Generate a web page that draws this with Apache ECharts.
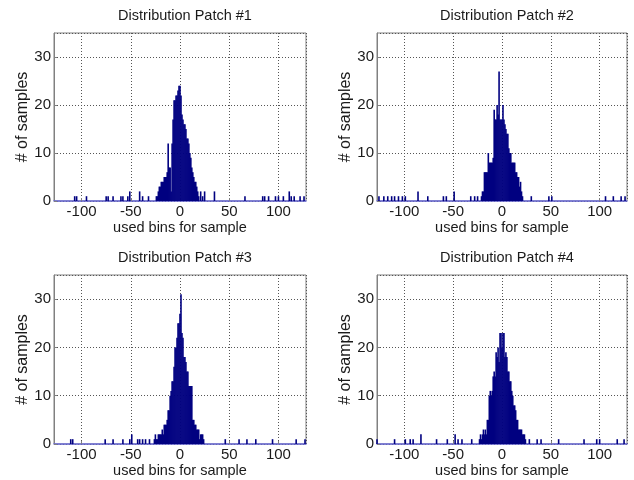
<!DOCTYPE html>
<html>
<head>
    <meta charset="utf-8">
    <title>Distribution Patch</title>
    <script src="https://cdn.jsdelivr.net/npm/echarts/dist/echarts.min.js"></script>
    <style>
        html, body { margin: 0; padding: 0; background: #fff; }
        #chart { width: 634px; height: 480px; }
    </style>
</head>
<body>
<div id="chart"></div>
<script>
    // bins are integers, core arrays start at the given bin
    var titles = ['Distribution Patch #1', 'Distribution Patch #2', 'Distribution Patch #3', 'Distribution Patch #4'];
    var xTicks = [-100, -50, 0, 50, 100];
    var yTicks = [0, 10, 20, 30];

    var patch1Start = -24;
    var patch1Core = [1, 1, 2, 3, 3, 4, 4, 4, 5, 5, 5, 6, 12, 7, 7, 2, 12, 17, 21, 21, 22, 22, 23, 24, 24, 22,
        18, 17, 16, 16, 15, 13, 13, 12, 10, 9, 7, 6, 5, 4, 4, 3, 2, 1];
    var patch1Sparse = [[-107, 1], [-105, 1], [-95, 1], [-75, 1], [-73, 1], [-68, 1], [-60, 1], [-58, 1], [-53, 1],
        [-51, 2], [-41, 2], [-38, 1], [-32, 1], [21, 2], [23, 1], [25, 2], [35, 2], [66, 1], [84, 1], [86, 1],
        [90, 1], [97, 1], [100, 1], [105, 1], [111, 2], [113, 1], [116, 1], [122, 1], [126, 1]];

    var patch2Start = -21;
    var patch2Core = [1, 2, 2, 6, 6, 6, 6, 10, 8, 8, 8, 8, 9, 19, 17, 17, 20, 18, 27, 17, 17, 17, 20, 17, 16,
        15, 14, 14, 11, 10, 10, 8, 8, 8, 8, 6, 6, 5, 5, 3, 4, 2, 1];
    var patch2Sparse = [[-126, 1], [-121, 1], [-117, 1], [-113, 1], [-110, 1], [-106, 1], [-102, 1], [-99, 1],
        [-86, 2], [-76, 1], [-60, 1], [-57, 1], [-49, 2], [-32, 1], [-28, 1], [-25, 1], [30, 1], [48, 1],
        [51, 1], [106, 1], [114, 1], [122, 1], [126, 1]];

    var patch3Start = -26;
    var patch3Core = [1, 2, 1, 1, 2, 2, 2, 2, 3, 2, 4, 4, 4, 5, 7, 7, 10, 11, 13, 13, 16, 20, 20, 22, 25, 25,
        27, 31, 23, 22, 18, 18, 17, 15, 15, 12, 12, 12, 12, 5, 5, 4, 4, 3, 3, 3, 1, 2, 2, 2, 1];
    var patch3Sparse = [[-111, 1], [-109, 1], [-76, 1], [-68, 1], [-58, 1], [-51, 1], [-49, 2], [-43, 1],
        [-41, 1], [-38, 1], [-35, 1], [-31, 1], [46, 1], [60, 1], [68, 1], [77, 1], [94, 1], [118, 1], [127, 1]];

    var patch4Start = -23;
    var patch4Core = [1, 2, 1, 2, 3, 2, 3, 2, 5, 5, 10, 11, 10, 11, 14, 15, 14, 19, 18, 20, 17, 23, 23, 20, 23,
        23, 18, 19, 18, 15, 15, 13, 13, 11, 10, 8, 8, 7, 5, 5, 3, 3, 3, 3, 2, 2, 2, 1];
    var patch4Sparse = [[-128, 1], [-110, 1], [-99, 1], [-94, 1], [-91, 1], [-83, 2], [-67, 1], [-56, 1],
        [-48, 2], [-45, 1], [-41, 1], [-31, 1], [28, 1], [36, 1], [40, 1], [58, 1], [84, 1], [97, 1],
        [100, 1], [118, 1], [125, 1]];

    function histData(start, core, sparse) {
        var out = [];
        core.forEach(function (c, i) {
            if (c > 0) out.push([start + i, c]);
        });
        sparse.forEach(function (p) {
            out.push(p);
        });
        return out;
    }

    var panels = [
        histData(patch1Start, patch1Core, patch1Sparse),
        histData(patch2Start, patch2Core, patch2Sparse),
        histData(patch3Start, patch3Core, patch3Sparse),
        histData(patch4Start, patch4Core, patch4Sparse)
    ];

    var boxes = [
        {left: 54, top: 33, width: 252, height: 168},
        {left: 377, top: 33, width: 250, height: 168},
        {left: 54, top: 275, width: 252, height: 169},
        {left: 377, top: 275, width: 250, height: 169}
    ];

    var font = 'Liberation Sans, Arial, sans-serif';
    var textColor = '#1a1a1a';

    var option = {
        animation: false,
        backgroundColor: '#fff',
        title: [],
        grid: [],
        xAxis: [],
        yAxis: [],
        series: []
    };

    boxes.forEach(function (b, i) {
        option.title.push({
            text: titles[i],
            left: b.left + b.width / 2,
            top: b.top - 30,
            textAlign: 'center',
            textStyle: {fontFamily: font, fontSize: 14.5, fontWeight: 'normal', color: textColor}
        });
        option.grid.push({
            left: b.left, top: b.top, width: b.width, height: b.height,
            show: true, borderColor: '#808080', borderWidth: 1
        });
        option.xAxis.push({
            gridIndex: i,
            type: 'value',
            min: -128,
            max: 128,
            splitNumber: 5,
            name: 'used bins for sample',
            nameLocation: 'middle',
            nameGap: 19,
            nameTextStyle: {fontFamily: font, fontSize: 14.5, color: textColor},
            axisLine: {onZero: false, lineStyle: {color: '#6a6ad8', width: 1.5}},
            axisTick: {inside: true, length: 3, lineStyle: {color: '#808080'}},
            axisLabel: {
                fontFamily: font, fontSize: 15, color: textColor, margin: 3,
                showMinLabel: false, showMaxLabel: false,
                formatter: function (v) { return xTicks.indexOf(v) >= 0 ? String(v) : ''; }
            },
            splitLine: {show: true, lineStyle: {type: [1, 2], color: '#555', width: 1}}
        });
        option.yAxis.push({
            gridIndex: i,
            type: 'value',
            min: 0,
            max: 35,
            interval: 10,
            name: '# of samples',
            nameLocation: 'middle',
            nameGap: 22,
            nameTextStyle: {fontFamily: font, fontSize: 16, color: textColor},
            axisLine: {show: true, onZero: false, lineStyle: {color: '#808080'}},
            axisTick: {inside: true, length: 3, lineStyle: {color: '#808080'}},
            axisLabel: {
                fontFamily: font, fontSize: 15, color: textColor, margin: 3,
                showMaxLabel: false,
                formatter: function (v) { return yTicks.indexOf(v) >= 0 ? String(v) : ''; }
            },
            splitLine: {show: true, lineStyle: {type: [1, 2], color: '#555', width: 1}}
        });
        option.series.push({
            type: 'bar',
            xAxisIndex: i,
            yAxisIndex: i,
            data: panels[i],
            barWidth: 1.6,
            itemStyle: {color: '#000080'},
            z: 3
        });
    });

    var chart = echarts.init(document.getElementById('chart'));
    chart.setOption(option);
</script>
</body>
</html>
